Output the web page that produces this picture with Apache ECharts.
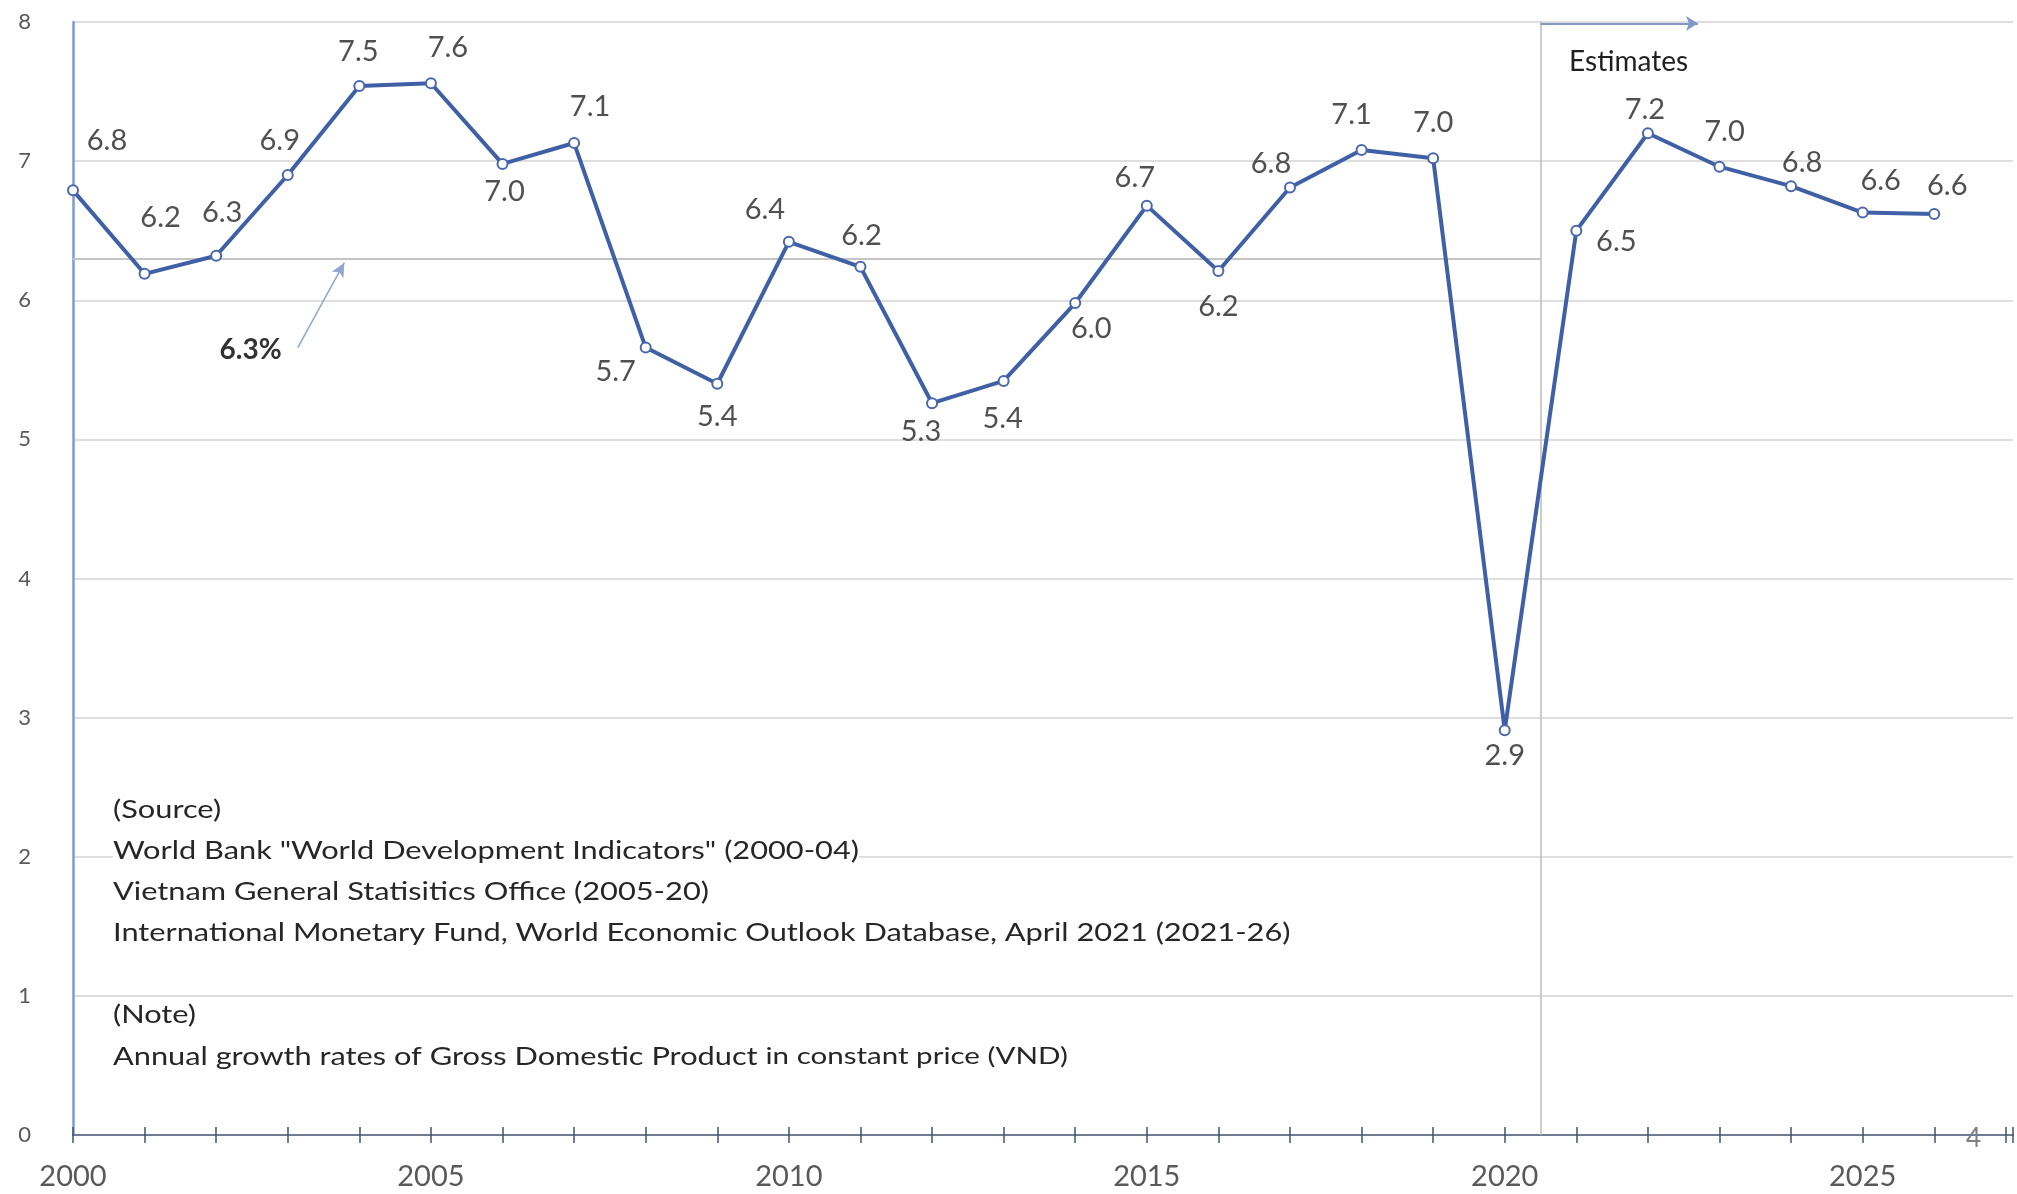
<!DOCTYPE html>
<html>
<head>
<meta charset="utf-8">
<script src="https://cdn.jsdelivr.net/npm/echarts@6/dist/echarts.min.js"></script>
<style>
  html, body { margin: 0; padding: 0; background: #fff; }
  #chart { width: 2017px; height: 1194px; }
</style>
</head>
<body>
<div id="chart"></div>
<script>
// data
const years = [2000, 2001, 2002, 2003, 2004, 2005, 2006, 2007, 2008, 2009, 2010, 2011, 2012, 2013,
  2014, 2015, 2016, 2017, 2018, 2019, 2020, 2021, 2022, 2023, 2024, 2025, 2026]
const growth = [6.79, 6.19, 6.32, 6.90, 7.54, 7.56, 6.98, 7.13, 5.66, 5.40, 6.42, 6.24, 5.26, 5.42,
  5.98, 6.68, 6.21, 6.81, 7.08, 7.02, 2.91, 6.50, 7.20, 6.96, 6.82, 6.63, 6.62]
const avgGrowth = 6.3
const estimateFrom = 2020.5
const yTicks = [0, 1, 2, 3, 4, 5, 6, 7, 8]

const sourceLines = [
  '(Source)',
  'World Bank "World Development Indicators" (2000-04)',
  'Vietnam General Statisitics Office (2005-20)',
  'International Monetary Fund, World Economic Outlook Database, April 2021 (2021-26)'
]

// where each value label sits relative to its point (px)
const labelOffsets = [
  [34, -50], [16, -56], [6, -43], [-8, -34], [-1, -34], [17, -36], [2, 28], [16, -36],
  [-30, 24], [0, 33], [-24, -32], [1, -31], [-11, 28], [-1, 38], [16, 26], [-12, -28],
  [0, 36], [-19, -24], [-10, -35], [0, -36], [0, 25], [40, 11], [-3, -24], [5, -35],
  [11, -24], [18, -32], [13, -28]
]

const font = 'Lato, "Open Sans", sans-serif'
const textStretch = 1.23

const points = growth.map((v, i) => ({
  value: [years[i], v],
  label: { offset: labelOffsets[i] }
}))

const chart = echarts.init(document.getElementById('chart'))

const xBase = {
  type: 'value',
  position: 'bottom',
  min: 2000,
  max: 2027.1,
  interval: 1,
  splitLine: { show: false },
  axisLine: { show: true, onZero: false, lineStyle: { color: '#6f7c93', width: 2 } }
}

const noteText = (t, top) => ({
  type: 'text',
  left: 113,
  top: top,
  scaleX: textStretch,
  z: 10,
  style: { text: t, fill: '#262626', font: '25px ' + font, backgroundColor: '#ffffff' }
})

const option = {
  animation: false,
  backgroundColor: '#fff',
  grid: { left: 73, right: 4, top: 22, bottom: 59 },
  xAxis: [
    Object.assign({}, xBase, {
      axisTick: { show: true, inside: false, length: 8, lineStyle: { color: '#44546a', width: 1.5 } },
      axisLabel: {
        margin: 27,
        color: '#595959',
        fontFamily: font,
        fontSize: 29,
        formatter: v => (v % 5 === 0 ? String(v) : '')
      }
    }),
    Object.assign({}, xBase, {
      axisTick: { show: true, inside: true, length: 8, lineStyle: { color: '#44546a', width: 1.5 } },
      axisLabel: { show: false }
    })
  ],
  yAxis: {
    type: 'value',
    min: yTicks[0],
    max: yTicks[yTicks.length - 1],
    interval: 1,
    axisLine: { show: true, lineStyle: { color: '#7f9bd0', width: 2.5 } },
    axisTick: { show: false },
    axisLabel: { margin: 42, color: '#595959', fontFamily: font, fontSize: 22 },
    splitLine: { show: true, lineStyle: { color: '#dedede', width: 2 } }
  },
  graphic: [
    ...sourceLines.map((t, i) => noteText(t, 797 + i * 41)),
    noteText('(Note)', 1002),
    {
      type: 'text',
      left: 113,
      top: 1044,
      scaleX: textStretch,
      z: 10,
      style: {
        backgroundColor: '#ffffff',
        rich: {
          a: { fill: '#262626', fontSize: 25, fontFamily: font },
          b: { fill: '#262626', fontSize: 24, fontFamily: font }
        },
        text: '{a|Annual growth rates of Gross Domestic Product }{b|in constant price (VND)}'
      }
    },
    {
      type: 'text',
      left: 1966,
      top: 1126,
      style: { text: '4', fill: '#7f7f7f', font: '26px ' + font }
    }
  ],
  series: [
    {
      name: 'GDP growth',
      type: 'line',
      data: points,
      symbol: 'circle',
      symbolSize: 10,
      itemStyle: { color: '#ffffff', borderColor: '#4a67ad', borderWidth: 2 },
      lineStyle: { color: '#4060a6', width: 4 },
      label: {
        show: true,
        position: 'inside',
        align: 'center',
        verticalAlign: 'middle',
        color: '#505050',
        fontFamily: font,
        fontSize: 29,
        formatter: p => p.value[1].toFixed(1)
      },
      z: 5
    },
    {
      name: 'average',
      type: 'line',
      data: [],
      markLine: {
        silent: true,
        symbol: ['none', 'none'],
        label: { show: false },
        lineStyle: { color: '#c4c4c4', width: 2, type: 'solid' },
        data: [[{ coord: [2000, avgGrowth] }, { coord: [estimateFrom, avgGrowth] }]]
      },
      markPoint: {
        silent: true,
        symbol: 'circle',
        symbolSize: 1,
        itemStyle: { color: 'rgba(0,0,0,0)' },
        label: {
          show: true,
          position: 'inside',
          color: '#333333',
          fontFamily: font,
          fontSize: 28,
          fontWeight: 'bold',
          formatter: '6.3%'
        },
        data: [{ coord: [2002.48, 5.64] }]
      }
    },
    {
      name: 'avg-arrow',
      type: 'line',
      data: [],
      markLine: {
        silent: true,
        symbol: ['none', 'arrow'],
        symbolSize: [10, 14],
        label: { show: false },
        lineStyle: { color: '#8fa6d0', width: 1.5, type: 'solid' },
        data: [[{ coord: [2003.14, 5.66] }, { coord: [2003.79, 6.27] }]]
      }
    },
    {
      name: 'estimates-divider',
      type: 'line',
      data: [],
      markLine: {
        silent: true,
        symbol: ['none', 'none'],
        label: { show: false },
        lineStyle: { color: '#bdbdbd', width: 1.5, type: 'solid' },
        data: [[{ coord: [estimateFrom, 0] }, { coord: [estimateFrom, 8] }]]
      }
    },
    {
      name: 'estimates-arrow',
      type: 'line',
      data: [],
      markLine: {
        silent: true,
        symbol: ['none', 'arrow'],
        symbolSize: [11, 12],
        label: { show: false },
        lineStyle: { color: '#7f98c8', width: 2, type: 'solid' },
        data: [[{ coord: [estimateFrom, 7.99] }, { coord: [2022.7, 7.99] }]]
      },
      markPoint: {
        silent: true,
        symbol: 'circle',
        symbolSize: 1,
        itemStyle: { color: 'rgba(0,0,0,0)' },
        label: {
          show: true,
          position: 'inside',
          color: '#1f1f1f',
          fontFamily: font,
          fontSize: 28,
          formatter: 'Estimates'
        },
        data: [{ coord: [2021.73, 7.71] }]
      }
    }
  ]
}

chart.setOption(option)
</script>
</body>
</html>
